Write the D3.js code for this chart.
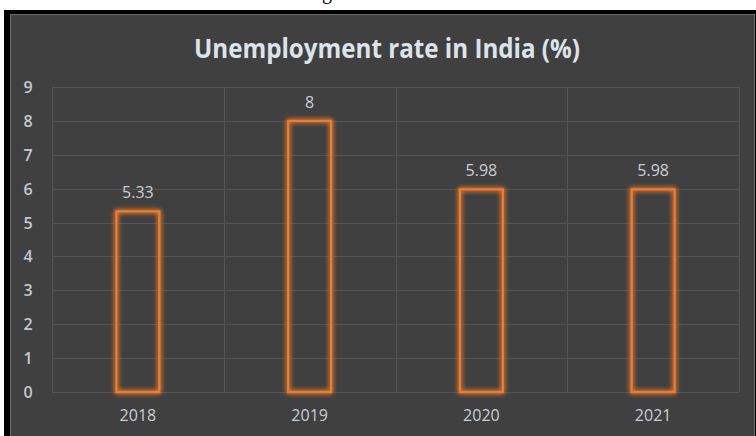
<!DOCTYPE html>
<html>
<head>
<meta charset="utf-8">
<script src="https://cdn.jsdelivr.net/npm/d3@7"></script>
<style>
  html, body { margin: 0; padding: 0; background: #ffffff; }
  svg { display: block; }
</style>
</head>
<body>
<svg id="chart" width="756" height="436"></svg>
<script>
// Unemployment rate in India, by year (%)
const years = ["2018", "2019", "2020", "2021"];
const rates = [5.33, 8, 5.98, 5.98];
const yTicks = [0, 1, 2, 3, 4, 5, 6, 7, 8, 9];
const chartTitle = "Unemployment rate in India (%)";

const svg = d3.select("#chart");
const W = 756, H = 436;

// page text above the chart, only its descender shows
svg.append("text")
  .attr("x", 327).attr("y", -1)
  .attr("text-anchor", "middle")
  .attr("font-family", "Liberation Serif, serif")
  .attr("font-size", 20)
  .attr("fill", "#000")
  .text("g");

// dark chart frame
svg.append("rect").attr("x", 4).attr("y", 10).attr("width", W).attr("height", H)
  .attr("fill", "#000");
svg.append("rect").attr("x", 10.5).attr("y", 14.5).attr("width", 744).attr("height", H)
  .attr("fill", "#404040").attr("stroke", "#6b6b6b").attr("stroke-width", 1);

// glow for the bar outlines
const defs = svg.append("defs");
const glow = defs.append("filter").attr("id", "glow")
  .attr("x", "-50%").attr("y", "-20%").attr("width", "200%").attr("height", "140%");
glow.append("feGaussianBlur").attr("in", "SourceGraphic").attr("stdDeviation", 2.5).attr("result", "b");
const merge = glow.append("feMerge");
merge.append("feMergeNode").attr("in", "b");
merge.append("feMergeNode").attr("in", "b");
merge.append("feMergeNode").attr("in", "SourceGraphic");

const plot = { left: 52, right: 739, top: 87, bottom: 392 };

const x = d3.scaleBand().domain(years).range([plot.left, plot.right]).padding(0);
const y = d3.scaleLinear().domain([0, 9]).range([plot.bottom, plot.top]);

const g = svg.append("g");

// horizontal gridlines
g.selectAll("line.h").data(yTicks).join("line")
  .attr("class", "h")
  .attr("x1", plot.left).attr("x2", plot.right)
  .attr("y1", d => Math.round(y(d)) + 0.5).attr("y2", d => Math.round(y(d)) + 0.5)
  .attr("stroke", "#555555").attr("stroke-width", 1);

// vertical gridlines at category boundaries
const bounds = years.map(d => x(d)).concat([plot.right]);
g.selectAll("line.v").data(bounds).join("line")
  .attr("class", "v")
  .attr("x1", d => Math.round(d) + 0.5).attr("x2", d => Math.round(d) + 0.5)
  .attr("y1", plot.top).attr("y2", plot.bottom)
  .attr("stroke", "#555555").attr("stroke-width", 1);

// y-axis labels
g.selectAll("text.yl").data(yTicks).join("text")
  .attr("class", "yl")
  .attr("x", 28).attr("y", d => y(d) + 6)
  .attr("text-anchor", "middle")
  .attr("font-family", "Open Sans, sans-serif")
  .attr("font-size", 16)
  .attr("font-weight", 600)
  .attr("fill", "#c4c9d1")
  .text(d => d);

// bars: outline only, orange with glow
const barW = x.bandwidth() * 0.25;
const data = years.map((d, i) => ({ year: d, value: rates[i] }));
g.selectAll("rect.bar").data(data).join("rect")
  .attr("class", "bar")
  .attr("x", d => x(d.year) + x.bandwidth() / 2 - barW / 2)
  .attr("y", d => y(d.value))
  .attr("width", barW)
  .attr("height", d => y(0) - y(d.value))
  .attr("fill", "none")
  .attr("stroke", "#ed7d31")
  .attr("stroke-width", 2.2)
  .attr("filter", "url(#glow)");

// value labels
g.selectAll("text.val").data(data).join("text")
  .attr("class", "val")
  .attr("x", d => x(d.year) + x.bandwidth() / 2)
  .attr("y", d => y(d.value) - 13)
  .attr("text-anchor", "middle")
  .attr("font-family", "Open Sans, sans-serif")
  .attr("font-size", 16)
  .attr("fill", "#c9ced6")
  .text(d => d.value);

// category labels
g.selectAll("text.xl").data(years).join("text")
  .attr("class", "xl")
  .attr("x", d => x(d) + x.bandwidth() / 2)
  .attr("y", 421)
  .attr("text-anchor", "middle")
  .attr("font-family", "Open Sans, sans-serif")
  .attr("font-size", 16)
  .attr("fill", "#c9ced6")
  .text(d => d);

// title
svg.append("text")
  .attr("x", 387).attr("y", 58)
  .attr("text-anchor", "middle")
  .attr("font-family", "Open Sans, sans-serif")
  .attr("font-size", 26)
  .attr("font-weight", 700)
  .attr("fill", "#dde3ea")
  .attr("textLength", 386)
  .attr("lengthAdjust", "spacingAndGlyphs")
  .text(chartTitle);
</script>
</body>
</html>
